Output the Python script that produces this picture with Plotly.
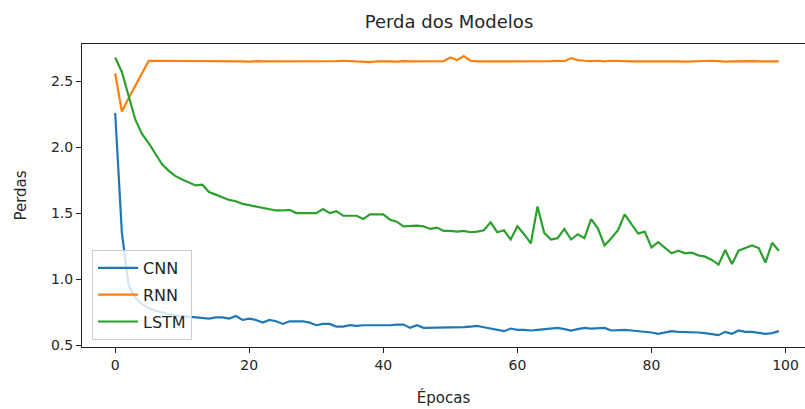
import plotly.graph_objects as go

epocas = list(range(100))

cnn = [2.26, 1.35, 0.95, 0.86, 0.81, 0.78, 0.76, 0.745, 0.735, 0.725,
       0.72, 0.715, 0.71, 0.705, 0.70, 0.71, 0.71, 0.70, 0.72, 0.69,
       0.70, 0.69, 0.67, 0.69, 0.68, 0.66, 0.68, 0.68, 0.68, 0.67,
       0.65, 0.66, 0.66, 0.64, 0.64, 0.65, 0.645, 0.65, 0.65, 0.645,
       0.65, 0.65, 0.655, 0.655, 0.63, 0.65, 0.63, 0.63, 0.635, 0.635,
       0.635, 0.635, 0.635, 0.64, 0.645, 0.635, 0.625, 0.61, 0.605, 0.625,
       0.615, 0.615, 0.61, 0.615, 0.62, 0.625, 0.63, 0.62, 0.61, 0.62,
       0.63, 0.625, 0.625, 0.63, 0.61, 0.615, 0.615, 0.61, 0.605, 0.605,
       0.595, 0.585, 0.595, 0.605, 0.60, 0.60, 0.595, 0.595, 0.59, 0.585,
       0.575, 0.60, 0.585, 0.61, 0.60, 0.60, 0.59, 0.585, 0.59, 0.605]

rnn = [2.56, 2.27, 2.37, 2.47, 2.56, 2.655, 2.655, 2.652, 2.65, 2.652,
       2.65, 2.65, 2.655, 2.652, 2.65, 2.65, 2.652, 2.655, 2.652, 2.65,
       2.648, 2.652, 2.65, 2.65, 2.648, 2.652, 2.65, 2.65, 2.652, 2.65,
       2.65, 2.652, 2.65, 2.652, 2.655, 2.652, 2.65, 2.648, 2.645, 2.65,
       2.652, 2.65, 2.648, 2.652, 2.65, 2.65, 2.652, 2.652, 2.65, 2.652,
       2.68, 2.66, 2.69, 2.655, 2.65, 2.65, 2.65, 2.65, 2.652, 2.65,
       2.65, 2.652, 2.65, 2.648, 2.65, 2.652, 2.655, 2.652, 2.675, 2.66,
       2.655, 2.652, 2.655, 2.65, 2.655, 2.652, 2.65, 2.65, 2.65, 2.65,
       2.65, 2.65, 2.652, 2.655, 2.65, 2.648, 2.65, 2.65, 2.652, 2.655,
       2.652, 2.648, 2.65, 2.652, 2.655, 2.652, 2.65, 2.65, 2.65, 2.65]

lstm = [2.68, 2.57, 2.39, 2.21, 2.10, 2.03, 1.95, 1.87, 1.82, 1.78,
        1.755, 1.735, 1.71, 1.715, 1.66, 1.64, 1.62, 1.60, 1.59, 1.57,
        1.56, 1.55, 1.54, 1.53, 1.52, 1.52, 1.525, 1.50, 1.50, 1.50,
        1.50, 1.53, 1.50, 1.515, 1.48, 1.48, 1.48, 1.455, 1.49, 1.49,
        1.49, 1.45, 1.435, 1.40, 1.405, 1.405, 1.40, 1.38, 1.39, 1.365,
        1.365, 1.36, 1.365, 1.355, 1.36, 1.37, 1.43, 1.355, 1.37, 1.30,
        1.40, 1.34, 1.27, 1.55, 1.35, 1.30, 1.31, 1.38, 1.30, 1.34,
        1.31, 1.455, 1.385, 1.255, 1.31, 1.37, 1.49, 1.42, 1.345, 1.36,
        1.24, 1.28, 1.235, 1.195, 1.215, 1.195, 1.20, 1.18, 1.17, 1.145,
        1.11, 1.22, 1.115, 1.215, 1.235, 1.255, 1.235, 1.125, 1.275, 1.215]

series = [("CNN", cnn, "#1f77b4"), ("RNN", rnn, "#ff7f0e"), ("LSTM", lstm, "#2ca02c")]

x_ticks = [0, 20, 40, 60, 80, 100]
y_ticks = [0.5, 1.0, 1.5, 2.0, 2.5]

font_family = "DejaVu Sans"
text_color = "#262626"

# plot area in pixels (left, right, top, bottom)
W, H = 805, 409
L, R, T, B = 82, 805, 44, 347

fig = go.Figure()
for name, values, color in series:
    fig.add_trace(go.Scatter(
        x=epocas, y=values, name=name, mode="lines", legendgroup=name,
        line=dict(color=color, width=2.2),
    ))

fig.update_layout(
    width=W, height=H,
    margin=dict(l=L, r=W - R, t=T, b=H - B),
    paper_bgcolor="white", plot_bgcolor="white",
    font=dict(family=font_family, size=14, color=text_color),
    title=dict(text="Perda dos Modelos", x=449 / W, xanchor="center",
               y=1 - 22 / H, yanchor="middle",
               font=dict(size=18, color=text_color)),
    showlegend=True,
    legend=dict(
        x=(92 - L) / (R - L), y=(B - 250) / (B - T), xanchor="left", yanchor="top",
        bgcolor="rgba(255,255,255,0.8)", bordercolor="#cccccc", borderwidth=1,
        font=dict(size=16, color=text_color),
        itemwidth=40, tracegroupgap=3,
        entrywidth=110, entrywidthmode="pixels",
    ),
)

fig.update_xaxes(
    range=[-4.95, 102.9], tickvals=x_ticks, ticktext=[str(v) for v in x_ticks],
    showgrid=False, zeroline=False,
    showline=True, linecolor="#222222", linewidth=1, mirror=True,
    ticks="outside", ticklen=5, tickcolor="#222222",
    tickfont=dict(size=14),
    title=dict(text="Épocas", font=dict(size=15), standoff=20),
)
fig.update_yaxes(
    range=[0.485, 2.782], tickvals=y_ticks, ticktext=[f"{v:.1f}" for v in y_ticks],
    showgrid=False, zeroline=False,
    showline=True, linecolor="#222222", linewidth=1, mirror=False,
    ticks="outside", ticklen=5, tickcolor="#222222",
    tickfont=dict(size=14),
    title=dict(text="Perdas", font=dict(size=15), standoff=20),
)

fig.write_html("out.html")
